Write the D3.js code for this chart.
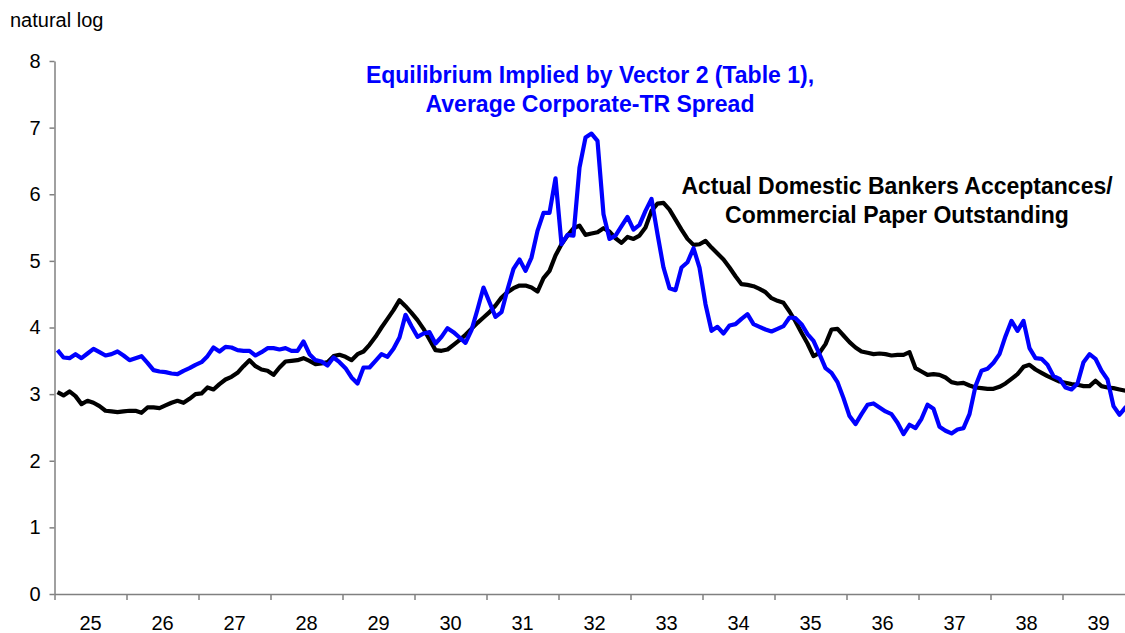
<!DOCTYPE html>
<html>
<head>
<meta charset="utf-8">
<script src="https://cdn.jsdelivr.net/npm/d3@7"></script>
<style>
  body { margin: 0; background: #fff; }
  svg { display: block; font-family: "Liberation Sans", Arial, sans-serif; }
</style>
</head>
<body>
<script>
// year labels, one per 12 monthly points
const years = ["25", "26", "27", "28", "29", "30", "31", "32", "33", "34", "35", "36", "37", "38", "39"];

// Equilibrium implied by Vector 2 (Table 1), average corporate-TR spread (monthly, natural log)
const equilibrium = [
  3.66, 3.55, 3.54, 3.60, 3.54, 3.61, 3.68, 3.63, 3.58, 3.60, 3.64, 3.58,
  3.51, 3.54, 3.57, 3.47, 3.36, 3.34, 3.33, 3.31, 3.30, 3.35, 3.39, 3.44,
  3.48, 3.57, 3.70, 3.64, 3.71, 3.70, 3.66, 3.65, 3.65, 3.58, 3.63, 3.69,
  3.69, 3.67, 3.69, 3.65, 3.65, 3.79, 3.60, 3.51, 3.49, 3.43, 3.55, 3.48,
  3.39, 3.25, 3.16, 3.40, 3.40, 3.50, 3.60, 3.56, 3.68, 3.85, 4.19, 4.02,
  3.86, 3.91, 3.93, 3.76, 3.86, 3.99, 3.93, 3.85, 3.77, 3.96, 4.27, 4.60,
  4.38, 4.16, 4.23, 4.57, 4.88, 5.02, 4.85, 5.05, 5.45, 5.72, 5.72, 6.24,
  5.25, 5.39, 5.38, 6.40, 6.85, 6.91, 6.80, 5.70, 5.33, 5.38, 5.52, 5.66,
  5.47, 5.54, 5.75, 5.93, 5.40, 4.90, 4.59, 4.56, 4.90, 4.98, 5.19, 4.90,
  4.35, 3.95, 4.01, 3.91, 4.03, 4.05, 4.13, 4.20, 4.05, 4.01, 3.97, 3.94,
  3.98, 4.02, 4.15, 4.14, 4.05, 3.90, 3.80, 3.60, 3.39, 3.32, 3.18, 2.94,
  2.67, 2.55, 2.70, 2.84, 2.86, 2.80, 2.74, 2.70, 2.57, 2.40, 2.54, 2.49,
  2.63, 2.84, 2.78, 2.51, 2.45, 2.41, 2.47, 2.49, 2.70, 3.12, 3.35, 3.38,
  3.47, 3.60, 3.87, 4.10, 3.95, 4.10, 3.69, 3.54, 3.53, 3.44, 3.27, 3.23,
  3.10, 3.07, 3.16, 3.48, 3.60, 3.53, 3.35, 3.22, 2.82, 2.69, 2.80, 2.85
];

// Actual domestic bankers acceptances / commercial paper outstanding (monthly, natural log)
const actual = [
  3.03, 2.98, 3.04, 2.97, 2.85, 2.90, 2.87, 2.82, 2.75, 2.74, 2.73, 2.74,
  2.75, 2.75, 2.72, 2.80, 2.80, 2.79, 2.83, 2.87, 2.90, 2.87, 2.93, 3.00,
  3.01, 3.10, 3.07, 3.15, 3.22, 3.26, 3.32, 3.42, 3.51, 3.42, 3.37, 3.35,
  3.29, 3.40, 3.49, 3.50, 3.51, 3.54, 3.50, 3.45, 3.46, 3.48, 3.57, 3.59,
  3.56, 3.51, 3.60, 3.64, 3.74, 3.86, 4.00, 4.13, 4.26, 4.41, 4.32, 4.22,
  4.11, 3.98, 3.82, 3.66, 3.65, 3.67, 3.74, 3.81, 3.89, 3.98, 4.07, 4.15,
  4.23, 4.33, 4.45, 4.53, 4.59, 4.63, 4.63, 4.60, 4.54, 4.74, 4.85, 5.08,
  5.25, 5.38, 5.49, 5.53, 5.39, 5.41, 5.43, 5.49, 5.44, 5.34, 5.27, 5.36,
  5.33, 5.38, 5.50, 5.75, 5.86, 5.87, 5.77, 5.62, 5.47, 5.33, 5.24, 5.25,
  5.30, 5.20, 5.11, 5.02, 4.90, 4.77, 4.65, 4.64, 4.62, 4.58, 4.53, 4.44,
  4.40, 4.37, 4.24, 4.09, 3.92, 3.76, 3.57, 3.62, 3.75, 3.97, 3.98, 3.88,
  3.78, 3.70, 3.64, 3.62, 3.60, 3.61, 3.60, 3.58, 3.59, 3.59, 3.63, 3.39,
  3.34, 3.29, 3.30, 3.29, 3.25, 3.18, 3.16, 3.17, 3.13, 3.10, 3.09, 3.08,
  3.08, 3.11, 3.16, 3.23, 3.30, 3.41, 3.44, 3.37, 3.32, 3.27, 3.23, 3.19,
  3.17, 3.15, 3.14, 3.12, 3.12, 3.20, 3.12, 3.10, 3.09, 3.07, 3.05, 3.04
];

const yTicks = [0, 1, 2, 3, 4, 5, 6, 7, 8];

const W = 1125, H = 633;
const plotLeft = 54.5, plotRight = 1134.5, plotTop = 61, plotBottom = 594;

const svg = d3.select("body").append("svg")
  .attr("width", W)
  .attr("height", H);

const nMonths = years.length * 12;

const x = d3.scaleLinear()
  .domain([0, nMonths])
  .range([plotLeft, plotRight]);

const y = d3.scaleLinear()
  .domain([0, 8])
  .range([plotBottom, plotTop]);

// axes
const yAxis = svg.append("g")
  .attr("transform", `translate(${plotLeft},0)`)
  .call(d3.axisLeft(y).tickValues(yTicks).tickSize(5).tickSizeOuter(0).tickPadding(9));

const xAxis = svg.append("g")
  .attr("transform", `translate(0,${plotBottom})`)
  .call(d3.axisBottom(x)
    .tickValues(d3.range(0, nMonths + 1, 12))
    .tickSize(6)
    .tickSizeOuter(0)
    .tickFormat(""));

[yAxis, xAxis].forEach(g => {
  g.select(".domain").attr("stroke", "#808080").attr("stroke-width", 1.5);
  g.selectAll(".tick line").attr("stroke", "#808080").attr("stroke-width", 1.5);
});
yAxis.selectAll(".tick text")
  .attr("font-size", 20)
  .attr("fill", "#000")
  .attr("font-family", "Liberation Sans, Arial, sans-serif");

// year labels centred in each year band
svg.append("g")
  .selectAll("text")
  .data(years)
  .join("text")
  .attr("x", (d, i) => x(i * 12 + 6))
  .attr("y", 630)
  .attr("text-anchor", "middle")
  .attr("font-size", 20)
  .attr("fill", "#000")
  .text(d => d);

svg.append("text")
  .attr("x", 10)
  .attr("y", 27)
  .attr("font-size", 20)
  .attr("fill", "#000")
  .text("natural log");

const line = d3.line()
  .x((d, i) => x(i + 0.5))
  .y(d => y(d));

svg.append("path")
  .datum(actual)
  .attr("fill", "none")
  .attr("stroke", "#000")
  .attr("stroke-width", 4.2)
  .attr("stroke-linejoin", "round")
  .attr("d", line);

svg.append("path")
  .datum(equilibrium)
  .attr("fill", "none")
  .attr("stroke", "#0000ff")
  .attr("stroke-width", 4.2)
  .attr("stroke-linejoin", "round")
  .attr("d", line);

// series labels
const blueLabel = svg.append("text")
  .attr("text-anchor", "middle")
  .attr("font-size", 23)
  .attr("font-weight", "bold")
  .attr("fill", "#0000ff");
blueLabel.append("tspan").attr("x", 590).attr("y", 83).text("Equilibrium Implied by Vector 2 (Table 1),");
blueLabel.append("tspan").attr("x", 590).attr("y", 112).text("Average Corporate-TR Spread");

const blackLabel = svg.append("text")
  .attr("text-anchor", "middle")
  .attr("font-size", 23)
  .attr("font-weight", "bold")
  .attr("fill", "#000");
blackLabel.append("tspan").attr("x", 897).attr("y", 194).text("Actual Domestic Bankers Acceptances/");
blackLabel.append("tspan").attr("x", 897).attr("y", 223).text("Commercial Paper Outstanding");
</script>
</body>
</html>
